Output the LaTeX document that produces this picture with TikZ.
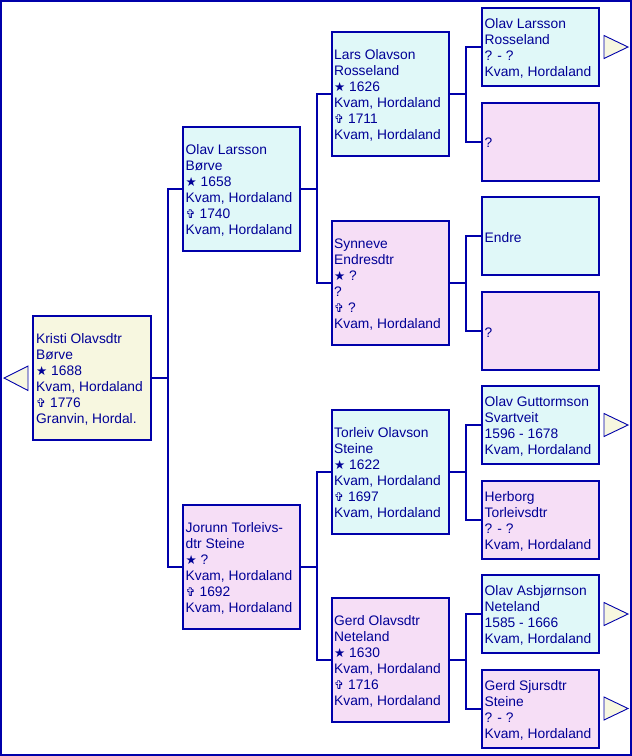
\documentclass[tikz,border=0pt]{standalone}
\usepackage{fontspec}
\setmainfont{Liberation Sans}
\newfontfamily\symf{DejaVu Sans}
\definecolor{bl}{RGB}{0,0,170}
\definecolor{tx}{RGB}{0,0,150}
\definecolor{cream}{RGB}{247,247,224}
\definecolor{cyanb}{RGB}{224,248,248}
\definecolor{pinkb}{RGB}{246,222,246}
\newcommand\bornsym{{\symf\fontsize{12.5}{16}\selectfont ★}}
\newcommand\diedsym{{\symf\fontsize{12}{16}\selectfont ✞}}
\tikzset{
  pbox/.style={draw=bl, line width=2pt, minimum width=117pt, inner sep=0pt},
  big/.style={pbox, minimum height=124pt},
  small/.style={pbox, minimum height=78pt},
  cr/.style={fill=cream},
  cy/.style={fill=cyanb},
  pk/.style={fill=pinkb},
  txt/.style={anchor=west, align=left, inner sep=0pt, text=tx, font=\fontsize{13.8}{16}\selectfont},
  conn/.style={draw=bl, line width=2pt},
  tri/.style={draw=bl, line width=0.9pt, fill=cream, line join=miter},
}
\begin{document}
\begin{tikzpicture}[x=1pt,y=-1pt]
\useasboundingbox (0,0) rectangle (632,756);
\draw[bl, line width=2pt] (1,1) rectangle (631,755);
% generation 0
\node[big,cr,minimum width=118pt] (r) at (92,378) {};
% generation 1
\node[big,cy] (f) at (241.5,188.5) {};
\node[big,pk] (m) at (241.5,567) {};
% generation 2
\node[big,cy] (ff) at (390,94) {};
\node[big,pk] (fm) at (390,283) {};
\node[big,cy] (mf) at (390,472) {};
\node[big,pk] (mm) at (390,660) {};
% generation 3
\node[small,cy] (fff) at (540.5,47) {};
\node[small,pk] (ffm) at (540.5,141.5) {};
\node[small,cy] (fmf) at (540.5,236) {};
\node[small,pk] (fmm) at (540.5,331) {};
\node[small,cy] (mff) at (540.5,425) {};
\node[small,pk] (mfm) at (540.5,520) {};
\node[small,cy] (mmf) at (540.5,614) {};
\node[small,pk] (mmm) at (540.5,708.5) {};
% texts
\node[txt] (rt) at ([shift={(4,1.5)}]r.west) {Kristi Olavsdtr\\Børve\\\bornsym\ 1688\\Kvam, Hordaland\\\diedsym\ 1776\\Granvin, Hordal.};
\node[txt] (ft) at ([shift={(3.5,1.5)}]f.west) {Olav Larsson\\Børve\\\bornsym\ 1658\\Kvam, Hordaland\\\diedsym\ 1740\\Kvam, Hordaland};
\node[txt] (mt) at ([shift={(3.5,1.5)}]m.west) {Jorunn Torleivs-\\dtr Steine\\\bornsym\ ?\\Kvam, Hordaland\\\diedsym\ 1692\\Kvam, Hordaland};
\node[txt] (fft) at ([shift={(3.5,1.5)}]ff.west) {Lars Olavson\\Rosseland\\\bornsym\ 1626\\Kvam, Hordaland\\\diedsym\ 1711\\Kvam, Hordaland};
\node[txt] (fmt) at ([shift={(3.5,1.5)}]fm.west) {Synneve\\Endresdtr\\\bornsym\ ?\\?\\\diedsym\ ?\\Kvam, Hordaland};
\node[txt] (mft) at ([shift={(3.5,1.5)}]mf.west) {Torleiv Olavson\\Steine\\\bornsym\ 1622\\Kvam, Hordaland\\\diedsym\ 1697\\Kvam, Hordaland};
\node[txt] (mmt) at ([shift={(3.5,1.5)}]mm.west) {Gerd Olavsdtr\\Neteland\\\bornsym\ 1630\\Kvam, Hordaland\\\diedsym\ 1716\\Kvam, Hordaland};
\node[txt] (ffft) at ([shift={(3.5,1.5)}]fff.west) {Olav Larsson\\Rosseland\\? - ?\\Kvam, Hordaland};
\node[txt] (ffmt) at ([shift={(3.5,1.5)}]ffm.west) {?};
\node[txt] (fmft) at ([shift={(3.5,1.5)}]fmf.west) {Endre};
\node[txt] (fmmt) at ([shift={(3.5,1.5)}]fmm.west) {?};
\node[txt] (mfft) at ([shift={(3.5,1.5)}]mff.west) {Olav Guttormson\\Svartveit\\1596 - 1678\\Kvam, Hordaland};
\node[txt] (mfmt) at ([shift={(3.5,1.5)}]mfm.west) {Herborg\\Torleivsdtr\\? - ?\\Kvam, Hordaland};
\node[txt] (mmft) at ([shift={(3.5,1.5)}]mmf.west) {Olav Asbjørnson\\Neteland\\1585 - 1666\\Kvam, Hordaland};
\node[txt] (mmmt) at ([shift={(3.5,1.5)}]mmm.west) {Gerd Sjursdtr\\Steine\\? - ?\\Kvam, Hordaland};
% connectors
\foreach \p/\a/\b in {r/f/m, f/ff/fm, m/mf/mm, ff/fff/ffm, fm/fmf/fmm, mf/mff/mfm, mm/mmf/mmm}{
  \draw[conn] (\p.east) -- ++(16,0) |- (\a.west);
  \draw[conn] (\p.east) -- ++(16,0) |- (\b.west);
}
% triangles
\draw[tri] ([shift={(-4,-12)}]r.west) -- ([shift={(-4,12.5)}]r.west) -- ([shift={(-28,0)}]r.west) -- cycle;
\foreach \n in {fff, mff, mmf, mmm}{
  \draw[tri] ([shift={(4,-11.5)}]\n.east) -- ([shift={(4,11.5)}]\n.east) -- ([shift={(28,0)}]\n.east) -- cycle;
}
\end{tikzpicture}
\end{document}
